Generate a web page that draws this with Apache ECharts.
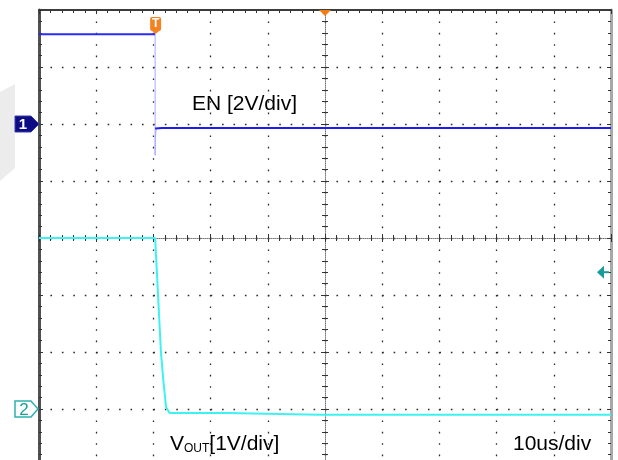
<!DOCTYPE html>
<html><head><meta charset="utf-8">
<script src="https://cdn.jsdelivr.net/npm/echarts@6/dist/echarts.min.js"></script>
<style>html,body{margin:0;padding:0;background:#fff}#c{width:618px;height:460px}</style>
</head><body><div id="c"></div>
<script>
// time in microseconds (10 us/div), trigger edge near t = 0.3 us
const enHighTime = [-20, 0.3];
const enHighVolt = [3.15, 3.15];
const enEdgeTime = [0.3, 0.3, 0.34, 0.5];
const enEdgeVolt = [3.15, -1.1, -0.5, -0.16];
const enLowTime  = [0.3, 1.5, 80];
const enLowVolt  = [-0.16, -0.14, -0.14];
const voutTime = [-20, 0.3, 0.68, 1.03, 1.33, 1.73, 2.2, 2.8, 13, 29, 80];
const voutVolt = [3.0, 3.0, 2.26, 1.56, 0.98, 0.51, 0.04, -0.07, -0.07, -0.1, -0.1];
const timeAxis = {min: -20, max: 80, interval: 10};   // us
const ch1Axis = {min: -12, max: 4, interval: 2};      // 2 V/div
const ch2Axis = {min: -1, max: 7, interval: 1};       // 1 V/div
const divAxis = {min: 0, max: 8, interval: 1};        // vertical divisions
const enLabel = 'EN [2V/div]';
const timeLabel = '10us/div';

function pairs(t, v) { return t.map((x, i) => [x, v[i]]); }

const chart = echarts.init(document.getElementById('c'), null, {renderer: 'canvas'});
const tickCol = '#333';
const dotCol = '#2a2a2a';
function xAx(extra) {
  return Object.assign({type: 'value', gridIndex: 0, min: timeAxis.min, max: timeAxis.max, interval: timeAxis.interval,
    axisLabel: {show: false}, splitLine: {show: false}}, extra);
}
function yAx(extra) {
  return Object.assign({type: 'value', gridIndex: 0, min: divAxis.min, max: divAxis.max, interval: divAxis.interval,
    axisLabel: {show: false}, splitLine: {show: false}}, extra);
}
const option = {
  animation: false,
  backgroundColor: '#fff',
  grid: {left: 39, width: 572, top: 10, height: 456, containLabel: false, outerBoundsMode: 'none'},
  xAxis: [
    // top border + vertical dotted grid
    xAx({position: 'top',
      axisLine: {show: true, onZero: false, lineStyle: {color: '#3c3c3c', width: 2}},
      axisTick: {show: true, inside: true, length: 4, lineStyle: {color: tickCol}},
      minorTick: {show: true, splitNumber: 5, length: 3, lineStyle: {color: tickCol}},
      splitLine: {show: true, showMinLine: false, showMaxLine: false, lineStyle: {color: dotCol, width: 1.3, type: [1.6, 9.8]}}}),
    // centre horizontal line, ticks up
    xAx({position: 'bottom', offset: -228,
      axisLine: {show: true, onZero: false, lineStyle: {color: '#777', width: 1, type: [1, 1]}},
      axisTick: {show: true, inside: true, length: 4, lineStyle: {color: tickCol}},
      minorTick: {show: true, splitNumber: 5, length: 3, lineStyle: {color: tickCol}}}),
    // centre horizontal line, ticks down
    xAx({position: 'bottom', offset: -228,
      axisLine: {show: false, onZero: false},
      axisTick: {show: true, inside: false, length: 4, lineStyle: {color: tickCol}},
      minorTick: {show: true, splitNumber: 5, length: 3, lineStyle: {color: tickCol}}})
  ],
  yAxis: [
    {type: 'value', gridIndex: 0, min: ch1Axis.min, max: ch1Axis.max, interval: ch1Axis.interval, show: false},
    {type: 'value', gridIndex: 0, min: ch2Axis.min, max: ch2Axis.max, interval: ch2Axis.interval, show: false},
    // left border + horizontal dotted grid
    yAx({position: 'left',
      axisLine: {show: true, onZero: false, lineStyle: {color: '#505050', width: 3}},
      axisTick: {show: true, inside: true, length: 4, lineStyle: {color: tickCol}},
      minorTick: {show: true, splitNumber: 5, length: 3, lineStyle: {color: tickCol}},
      splitLine: {show: true, showMinLine: false, showMaxLine: false, lineStyle: {color: dotCol, width: 1.3, type: [1.6, 9.84]}}}),
    // right border
    yAx({position: 'right',
      axisLine: {show: true, onZero: false, lineStyle: {color: '#a8a8a8', width: 3}},
      axisTick: {show: true, inside: true, length: 4, lineStyle: {color: tickCol}},
      minorTick: {show: true, splitNumber: 5, length: 3, lineStyle: {color: tickCol}}}),
    // centre vertical line, ticks right
    yAx({position: 'left', offset: -286,
      axisLine: {show: true, onZero: false, lineStyle: {color: '#777', width: 1, type: [1, 1]}},
      axisTick: {show: true, inside: true, length: 4, lineStyle: {color: tickCol}},
      minorTick: {show: true, splitNumber: 5, length: 3, lineStyle: {color: tickCol}}}),
    // centre vertical line, ticks left
    yAx({position: 'left', offset: -286,
      axisLine: {show: false, onZero: false},
      axisTick: {show: true, inside: false, length: 4, lineStyle: {color: tickCol}},
      minorTick: {show: true, splitNumber: 5, length: 3, lineStyle: {color: tickCol}}})
  ],
  series: [
    {type: 'line', name: 'VOUT', xAxisIndex: 0, yAxisIndex: 1, data: pairs(voutTime, voutVolt), symbol: 'none',
      lineStyle: {color: '#3ff2f2', width: 2}, z: 5},
    {type: 'line', name: 'EN edge', xAxisIndex: 0, yAxisIndex: 0, data: pairs(enEdgeTime, enEdgeVolt), symbol: 'none',
      lineStyle: {color: '#a8a8ff', width: 1}, z: 6},
    {type: 'line', name: 'EN high', xAxisIndex: 0, yAxisIndex: 0, data: pairs(enHighTime, enHighVolt), symbol: 'none',
      lineStyle: {color: '#2a2aff', width: 2}, z: 7},
    {type: 'line', name: 'EN low', xAxisIndex: 0, yAxisIndex: 0, data: pairs(enLowTime, enLowVolt), symbol: 'none',
      lineStyle: {color: '#1c1cf0', width: 2}, z: 7}
  ]
};
chart.setOption(option);

const font = '"Liberation Sans", Arial, sans-serif';
const g1 = chart.convertToPixel({yAxisIndex: 0}, 0);
const g2 = chart.convertToPixel({yAxisIndex: 1}, 0);
const tx = chart.convertToPixel({xAxisIndex: 0}, enHighTime[1]);
const cx = chart.convertToPixel({xAxisIndex: 0}, (timeAxis.min + timeAxis.max) / 2);
const trigY = chart.convertToPixel({yAxisIndex: 1}, 2.4);
const gridTop = chart.convertToPixel({yAxisIndex: 2}, divAxis.max);
const gridLeft = chart.convertToPixel({xAxisIndex: 0}, timeAxis.min);
const gridRight = chart.convertToPixel({xAxisIndex: 0}, timeAxis.max);

chart.setOption({
  graphic: [
    {type: 'polygon', z: -10, shape: {points: [[0, 92], [15, 84], [15, 168], [0, 181]]}, style: {fill: '#ececec'}},
    // channel 1 ground marker
    {type: 'polygon', z: 20, shape: {points: [[gridLeft - 24, g1 - 8], [gridLeft - 8, g1 - 8], [gridLeft, g1], [gridLeft - 8, g1 + 8], [gridLeft - 24, g1 + 8]]},
      style: {fill: '#0c0c84', stroke: '#3a3ab0', lineWidth: 1}},
    {type: 'text', z: 21, style: {x: gridLeft - 16, y: g1 + 1, text: '1', font: 'bold 15px ' + font, fill: '#fff', align: 'center', verticalAlign: 'middle'}},
    // channel 2 ground marker
    {type: 'polygon', z: 20, shape: {points: [[gridLeft - 24, g2 - 8], [gridLeft - 8, g2 - 8], [gridLeft - 1, g2], [gridLeft - 8, g2 + 8], [gridLeft - 24, g2 + 8]]},
      style: {fill: '#fff', stroke: '#2fb0b0', lineWidth: 1.5}},
    {type: 'text', z: 21, style: {x: gridLeft - 15, y: g2 + 1, text: '2', font: '17px ' + font, fill: '#17a0a0', align: 'center', verticalAlign: 'middle'}},
    // trigger T marker
    {type: 'rect', z: 20, shape: {x: tx - 5, y: gridTop + 7, width: 11, height: 14, r: 2}, style: {fill: '#f58220'}},
    {type: 'polygon', z: 20, shape: {points: [[tx - 3, gridTop + 21], [tx + 4, gridTop + 21], [tx + 0.5, gridTop + 24]]}, style: {fill: '#f58220'}},
    {type: 'text', z: 21, style: {x: tx + 0.5, y: gridTop + 14, text: 'T', font: 'bold 12px ' + font, fill: '#fff', align: 'center', verticalAlign: 'middle'}},
    // horizontal position marker
    {type: 'polygon', z: 20, shape: {points: [[cx - 6, gridTop], [cx + 6, gridTop], [cx, gridTop + 6]]}, style: {fill: '#f27c12'}},
    // trigger level arrow
    {type: 'polygon', z: 20, shape: {points: [[gridRight - 14, trigY], [gridRight - 7, trigY - 6.5], [gridRight - 7, trigY + 6.5]]}, style: {fill: '#1a9a9a'}},
    {type: 'line', z: 20, shape: {x1: gridRight - 8, y1: trigY, x2: gridRight - 2, y2: trigY}, style: {stroke: '#1a9a9a', lineWidth: 2}},
    // labels
    {type: 'text', z: 30, style: {x: 192, y: 104, text: enLabel, font: '21px ' + font, fill: '#000', verticalAlign: 'middle'}},
    {type: 'text', z: 30, style: {x: 170, y: 444, text: '{v|V}{s|OUT}{n|[1V/div]}', fill: '#000', verticalAlign: 'middle',
      rich: {v: {fontSize: 21, fontFamily: font, verticalAlign: 'bottom'}, s: {fontSize: 12, fontFamily: font, verticalAlign: 'bottom'}, n: {fontSize: 21, fontFamily: font, verticalAlign: 'bottom'}}}},
    {type: 'text', z: 30, style: {x: 513, y: 444, text: timeLabel, font: '21px ' + font, fill: '#000', verticalAlign: 'middle'}}
  ]
});
</script></body></html>
